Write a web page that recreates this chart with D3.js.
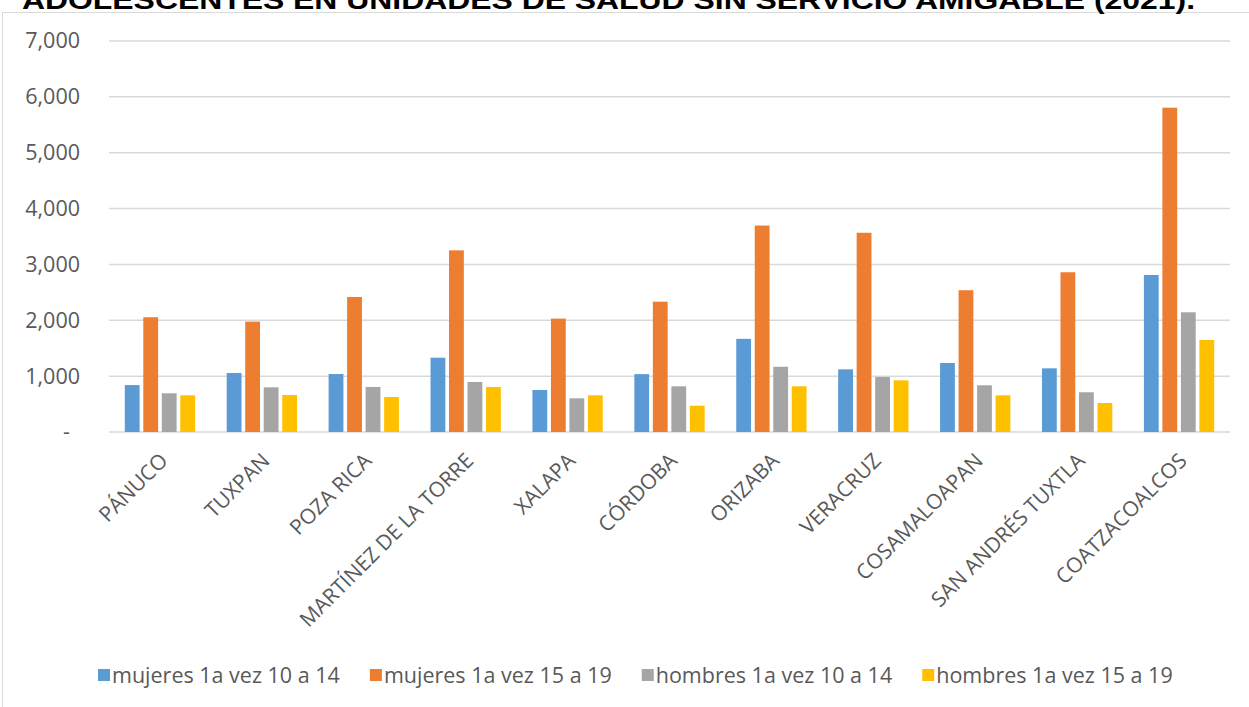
<!DOCTYPE html>
<html>
<head>
<meta charset="utf-8">
<script src="https://cdn.jsdelivr.net/npm/d3@7"></script>
<style>
  body { margin: 0; background: #fff; }
  svg { display: block; }
</style>
</head>
<body>
<svg id="chart" width="1249" height="707"></svg>
<script>
// data
var regions = ["PÁNUCO", "TUXPAN", "POZA RICA", "MARTÍNEZ DE LA TORRE", "XALAPA", "CÓRDOBA",
  "ORIZABA", "VERACRUZ", "COSAMALOAPAN", "SAN ANDRÉS TUXTLA", "COATZACOALCOS"];
var seriesNames = ["mujeres 1a vez 10 a 14", "mujeres 1a vez 15 a 19", "hombres 1a vez 10 a 14", "hombres 1a vez 15 a 19"];
var mujeres1014 = [840, 1056, 1038, 1330, 752, 1036, 1668, 1122, 1235, 1140, 2811];
var mujeres1519 = [2054, 1976, 2417, 3252, 2030, 2333, 3696, 3567, 2538, 2860, 5806];
var hombres1014 = [693, 800, 806, 895, 603, 818, 1168, 985, 836, 711, 2143];
var hombres1519 = [657, 662, 627, 806, 657, 471, 818, 925, 657, 519, 1647];
var yTicks = [0, 1000, 2000, 3000, 4000, 5000, 6000, 7000];
var colors = ["#5B9BD5", "#ED7D31", "#A5A5A5", "#FFC000"];

var series = [mujeres1014, mujeres1519, hombres1014, hombres1519];

var svg = d3.select("#chart"),
  width = +svg.attr("width"),
  height = +svg.attr("height"),
  font = "'Open Sans', sans-serif",
  textColor = "#595959";

// chart frame (runs off the right and bottom edges)
svg.append("rect")
  .attr("x", 2.5).attr("y", 12.5)
  .attr("width", width + 10).attr("height", height)
  .attr("fill", "#fff")
  .attr("stroke", "#d9d9d9");

// title, cut off at the top like the reference
svg.append("text")
  .attr("x", 22).attr("y", 9)
  .attr("textLength", 1173)
  .attr("lengthAdjust", "spacingAndGlyphs")
  .attr("font-family", "'Liberation Sans', Arial, sans-serif")
  .attr("font-weight", "bold")
  .attr("font-size", 26)
  .attr("fill", "#000")
  .text("ADOLESCENTES EN UNIDADES DE SALUD SIN SERVICIO AMIGABLE (2021).");

var x0 = d3.scaleBand().domain(regions).range([109, 1230]).paddingInner(0.31).paddingOuter(0.155);
var x1 = d3.scaleBand().domain(d3.range(4)).range([0, x0.bandwidth()]).paddingInner(0.2);
var y = d3.scaleLinear().domain([0, 7000]).range([432, 41]);

// gridlines
svg.append("g").selectAll("line")
  .data(yTicks)
  .join("line")
  .attr("x1", 109).attr("x2", 1230)
  .attr("y1", function (d) { return y(d); })
  .attr("y2", function (d) { return y(d); })
  .attr("stroke", "#d9d9d9")
  .attr("stroke-width", 1.5);

// y axis labels
var yAxis = d3.axisLeft(y)
  .tickValues(yTicks)
  .tickSize(0)
  .tickPadding(0)
  .tickFormat(function (d) { return d === 0 ? "-" : d3.format(",")(d); });

var gy = svg.append("g").attr("transform", "translate(80,0)").call(yAxis);
gy.select(".domain").remove();
gy.selectAll("text")
  .attr("font-family", font)
  .attr("font-size", 21.5)
  .attr("fill", textColor)
  .attr("dx", function (d) { return d === 0 ? -10 : 0; });

// bars
var groups = svg.append("g").selectAll("g")
  .data(regions)
  .join("g")
  .attr("transform", function (d) { return "translate(" + x0(d) + ",0)"; });

groups.selectAll("rect")
  .data(function (d, i) { return series.map(function (s, k) { return { k: k, v: s[i] }; }); })
  .join("rect")
  .attr("x", function (d) { return x1(d.k); })
  .attr("y", function (d) { return y(d.v); })
  .attr("width", x1.bandwidth())
  .attr("height", function (d) { return y(0) - y(d.v); })
  .attr("fill", function (d) { return colors[d.k]; });

// x axis labels, rotated
var xAxis = d3.axisBottom(x0).tickSize(0).tickPadding(0);
var gx = svg.append("g").attr("transform", "translate(0," + y(0) + ")").call(xAxis);
gx.select(".domain").remove();
gx.selectAll("text")
  .attr("font-family", font)
  .attr("font-size", 21)
  .attr("fill", textColor)
  .attr("text-anchor", "end")
  .attr("dy", null)
  .attr("y", 0)
  .attr("transform", "translate(9,30) rotate(-45)");

// legend
var legend = svg.append("g").attr("transform", "translate(98,675)");
var lx = 0;
seriesNames.forEach(function (name, i) {
  var item = legend.append("g").attr("transform", "translate(" + lx + ",0)");
  item.append("rect")
    .attr("x", 0).attr("y", -6)
    .attr("width", 12).attr("height", 12)
    .attr("fill", colors[i]);
  var t = item.append("text")
    .attr("x", 14).attr("y", 0)
    .attr("dy", "0.35em")
    .attr("font-family", font)
    .attr("font-size", 21.5)
    .attr("fill", textColor)
    .text(name);
  lx += 14 + t.node().getComputedTextLength() + 30;
});
</script>
</body>
</html>
